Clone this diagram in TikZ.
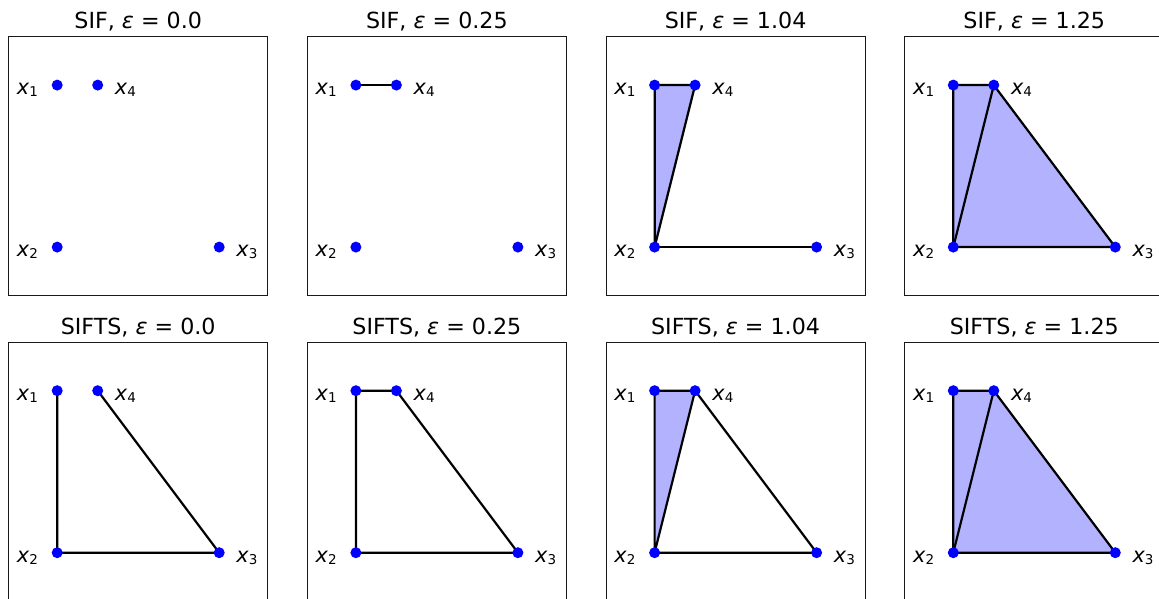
\documentclass[tikz,border=0pt]{standalone}
\usepackage{fontspec}
\setmainfont{DejaVu Sans}
\usetikzlibrary{positioning}

\newcommand{\xlab}[1]{\textit{x}\raisebox{-2pt}{\fontsize{13.5}{13.5}\selectfont #1}}

\begin{document}
\begin{tikzpicture}[x=1pt, y=1pt,
  frame/.style={draw=black!90, line width=0.9pt},
  edge/.style={draw=black, line width=2.2pt, line join=round},
  face/.style={fill=blue!30},
  vertex/.style={circle, fill=blue, inner sep=0pt, minimum size=11pt},
  lab/.style={font=\fontsize{20.8}{20.8}\selectfont, inner sep=0pt},
  ttl/.style={font=\fontsize{22.2}{26}\selectfont, inner sep=0pt, anchor=base}]
  \useasboundingbox (0,0) rectangle (1159,599);

  % frames and point positions, data units inside each panel
  \foreach \r in {0,1}
    \foreach \c in {0,...,3} {
      \begin{scope}[shift={(57.2+298.7*\c, 351.9-305.6*\r)}, x=162pt, y=162pt]
        \coordinate (x1-\r\c) at (0,1);
        \coordinate (x2-\r\c) at (0,0);
        \coordinate (x3-\r\c) at (1,0);
        \coordinate (x4-\r\c) at (0.25,1);
        \coordinate (top-\r\c) at (0.5,1.3);
        \draw[frame] (-0.3,-0.3) rectangle (1.3,1.3);
      \end{scope}
    }

  % SIF
  \draw[edge] (x1-01) -- (x4-01);
  \filldraw[face, edge] (x1-02) -- (x4-02) -- (x2-02) -- cycle;
  \draw[edge] (x1-02) -- (x2-02) -- (x3-02);
  \fill[face] (x1-03) -- (x4-03) -- (x3-03) -- (x2-03) -- cycle;
  \draw[edge] (x1-03) -- (x4-03) -- (x3-03) -- (x2-03) -- cycle;
  \draw[edge] (x2-03) -- (x4-03);

  % SIFTS
  \draw[edge] (x1-10) -- (x2-10) -- (x3-10) -- (x4-10);
  \draw[edge] (x4-11) -- (x1-11) -- (x2-11) -- (x3-11) -- (x4-11);
  \filldraw[face, edge] (x1-12) -- (x4-12) -- (x2-12) -- cycle;
  \draw[edge] (x2-12) -- (x3-12) -- (x4-12);
  \fill[face] (x1-13) -- (x4-13) -- (x3-13) -- (x2-13) -- cycle;
  \draw[edge] (x1-13) -- (x4-13) -- (x3-13) -- (x2-13) -- cycle;
  \draw[edge] (x2-13) -- (x4-13);

  % points, labels, titles
  \foreach \r/\nm in {0/SIF, 1/SIFTS}
    \foreach \c/\eps in {0/0.0, 1/0.25, 2/1.04, 3/1.25} {
      \foreach \k in {1,...,4}
        \node[vertex] (v\k-\r\c) at (x\k-\r\c) {};
      \node[lab, anchor=base east] (l1-\r\c) at ([xshift=-19pt, yshift=-9.5pt]x1-\r\c) {\xlab{1}};
      \node[lab, anchor=base east] (l2-\r\c) at ([xshift=-19pt, yshift=-9.5pt]x2-\r\c) {\xlab{2}};
      \node[lab, anchor=base west] (l3-\r\c) at ([xshift=17pt, yshift=-9.5pt]x3-\r\c) {\xlab{3}};
      \node[lab, anchor=base west] (l4-\r\c) at ([xshift=17pt, yshift=-9.5pt]x4-\r\c) {\xlab{4}};
      \node[ttl] (t-\r\c) at ([yshift=8pt]top-\r\c) {\nm, \textit{ε} = \eps};
    }
\end{tikzpicture}
\end{document}
